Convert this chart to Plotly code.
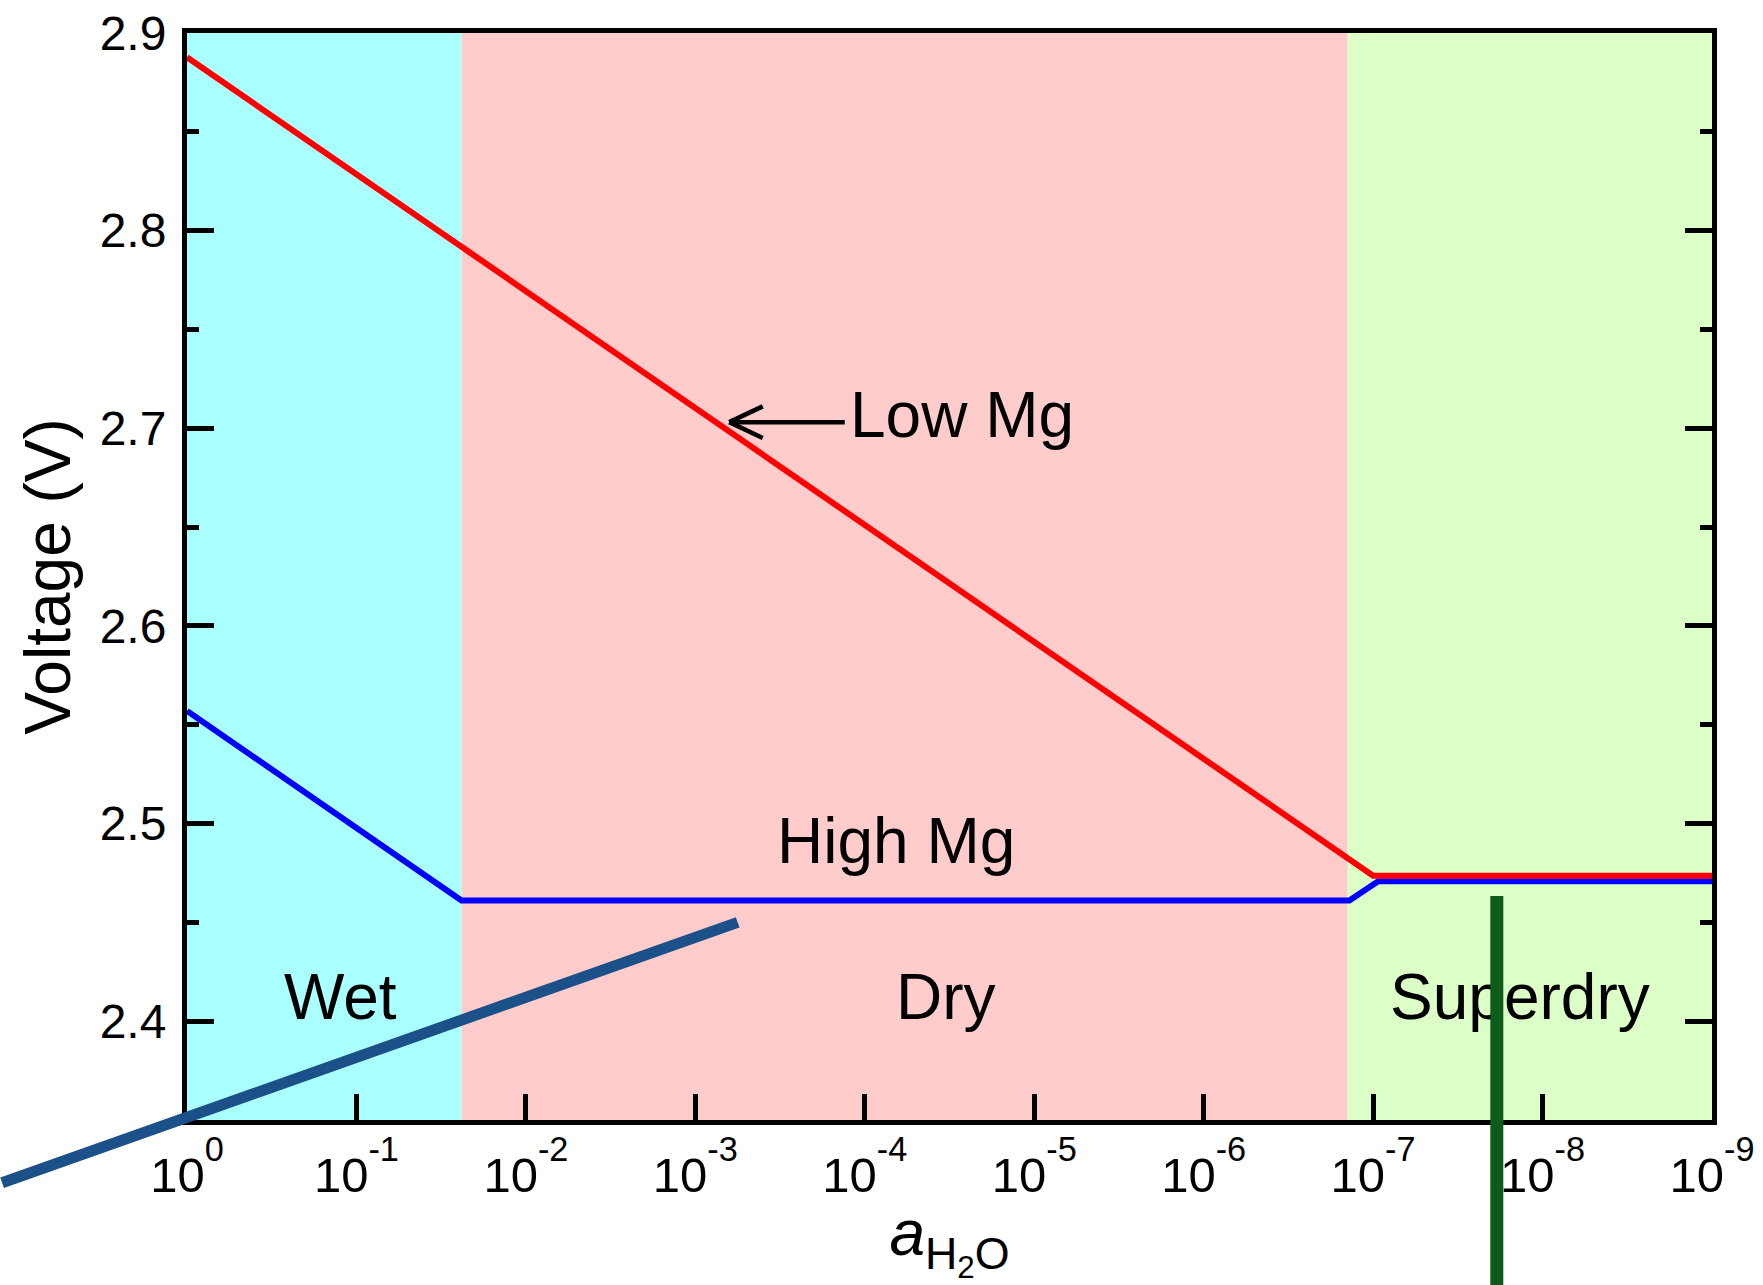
import plotly.graph_objects as go

# ---- data -------------------------------------------------------------
# water-activity decades (log10 a_H2O) and cell voltages
region_names = ["Wet", "Dry", "Superdry"]
region_edges_log = [0.0, -1.62, -6.85, -9.0]
region_colors = ["#AAFFFF", "#FFCCCC", "#DCFFC8"]

low_mg_log = [0.0, -7.0, -9.0]
low_mg_v = [2.8877, 2.4736, 2.4736]

high_mg_log = [0.0, -1.62, -6.86, -7.03, -9.0]
high_mg_v = [2.557, 2.4611, 2.4611, 2.4708, 2.4708]

# region label anchors (log10 a_H2O, V)
region_label_log = [-0.904, -4.479, -7.866]
region_label_v = [2.412, 2.412, 2.412]

# curve labels
curve_label_text = ["Low Mg", "High Mg"]
curve_label_log = [-4.574, -4.185]
curve_label_v = [2.7065, 2.4911]
low_mg_arrow_tip = (-3.2, 2.7031)

# overlay guide segments: (head log, head V, tail log, tail V)
slanted_segment = (-3.25, 2.450, 1.1, 2.318)
vertical_segment = (-7.73, 2.4634, -7.73, 2.26)

x_tick_exps = list(range(0, -10, -1))
x_tick_text = ['10<sup><span style="baseline-shift:10px">%d</span></sup>' % e
               for e in x_tick_exps]

y_range = [2.35, 2.9]

FONT = "Liberation Sans, Arial, Helvetica, sans-serif"

fig = go.Figure()

# shaded regimes
for name, x0, x1, col in zip(region_names, region_edges_log[:-1],
                             region_edges_log[1:], region_colors):
    fig.add_trace(go.Scatter(
        x=[10 ** x0, 10 ** x0, 10 ** x1, 10 ** x1, 10 ** x0],
        y=[y_range[0], y_range[1], y_range[1], y_range[0], y_range[0]],
        mode="lines", fill="toself", fillcolor=col,
        line=dict(width=0, color=col), hoverinfo="skip", name=name,
        showlegend=False))

fig.add_trace(go.Scatter(
    x=[10 ** v for v in high_mg_log], y=high_mg_v, mode="lines",
    line=dict(color="#0000FF", width=6), name="High Mg", showlegend=False))
fig.add_trace(go.Scatter(
    x=[10 ** v for v in low_mg_log], y=low_mg_v, mode="lines",
    line=dict(color="#FF0000", width=6), name="Low Mg", showlegend=False))

annotations = []
for name, lx, ly in zip(region_names, region_label_log, region_label_v):
    annotations.append(dict(x=lx, y=ly, xref="x", yref="y", text=name,
                            showarrow=False, xanchor="center", yanchor="middle",
                            font=dict(family=FONT, size=64, color="black")))
for name, lx, ly in zip(curve_label_text, curve_label_log, curve_label_v):
    annotations.append(dict(x=lx, y=ly, xref="x", yref="y", text=name,
                            showarrow=False, xanchor="center", yanchor="middle",
                            font=dict(family=FONT, size=64, color="black")))

# arrow pointing at the Low Mg curve: shaft plus two barbs
for ax_px, ay_px in [(117, 0), (35, -16.5), (35, 16.5)]:
    annotations.append(dict(x=low_mg_arrow_tip[0], y=low_mg_arrow_tip[1],
                            xref="x", yref="y", text="", showarrow=True,
                            arrowhead=0, arrowwidth=4.5, arrowcolor="black",
                            ax=ax_px, ay=ay_px, axref="pixel", ayref="pixel",
                            standoff=0, startstandoff=0))

# overlay guide segments
for seg, col, w in [(slanted_segment, "#1B5088", 11),
                    (vertical_segment, "#0E5C1C", 13)]:
    annotations.append(dict(x=seg[0], y=seg[1], ax=seg[2], ay=seg[3],
                            xref="x", yref="y", axref="x", ayref="y",
                            text="", showarrow=True, arrowhead=0,
                            arrowwidth=w, arrowcolor=col,
                            standoff=0, startstandoff=0))

fig.update_layout(
    width=1763, height=1285,
    margin=dict(l=186.5, r=50.5, t=33, b=164.5),
    paper_bgcolor="white", plot_bgcolor="white",
    font=dict(family=FONT, color="black"),
    annotations=annotations,
    showlegend=False,
)

fig.update_xaxes(
    type="log", range=[0, -9], automargin=False,
    tickmode="array", tickvals=[10 ** e for e in x_tick_exps],
    ticktext=x_tick_text, ticklabeloverflow="allow",
    ticks="inside", ticklen=26, tickwidth=4.5, tickcolor="black",
    showline=True, linewidth=5, linecolor="black", mirror=True,
    showgrid=False, zeroline=False,
    tickfont=dict(family=FONT, size=49, color="black"),
    ticklabelstandoff=8,
    title=dict(text="<i>a</i><sub>H<sub>2</sub>O</sub>",
               font=dict(family=FONT, size=64, color="black"), standoff=2),
)

fig.update_yaxes(
    range=y_range, tickmode="linear", tick0=2.4, dtick=0.1, automargin=False,
    ticklabeloverflow="allow",
    ticks="inside", ticklen=27, tickwidth=5, tickcolor="black",
    minor=dict(dtick=0.05, tick0=2.35, ticks="inside", ticklen=12,
               tickwidth=5, tickcolor="black"),
    showline=True, linewidth=5, linecolor="black", mirror="ticks",
    showgrid=False, zeroline=False,
    tickfont=dict(family=FONT, size=48, color="black"),
    ticklabelstandoff=6,
    title=dict(text="Voltage (V)",
               font=dict(family=FONT, size=64, color="black"), standoff=10),
)

fig.write_html("out.html")
